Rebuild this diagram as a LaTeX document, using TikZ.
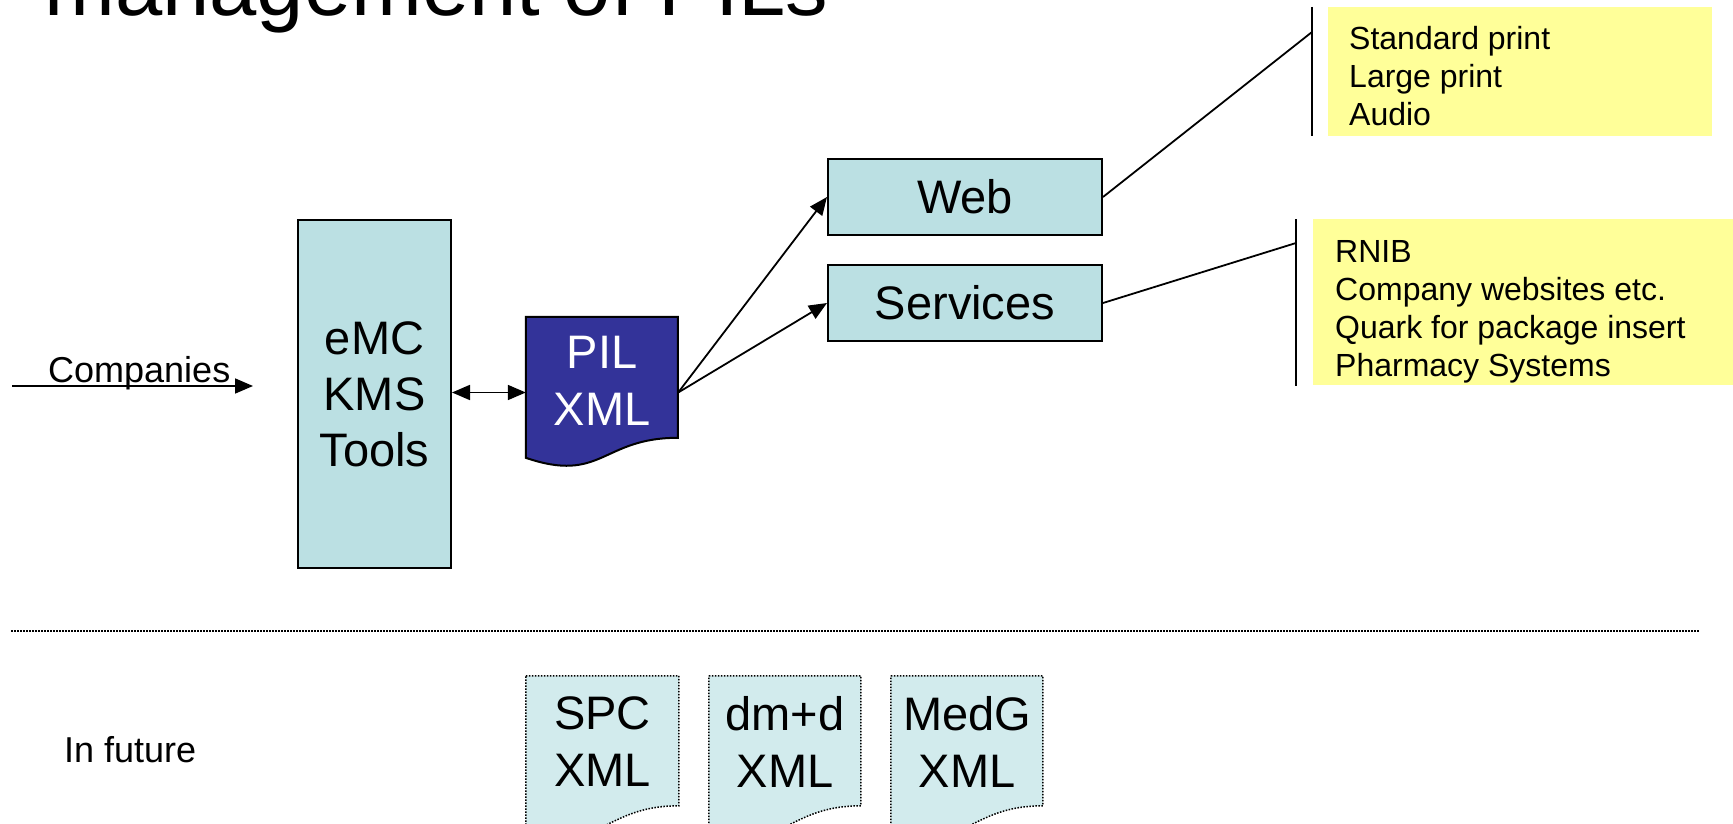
\documentclass[tikz,border=0pt]{standalone}
\usepackage{fontspec}
\setmainfont{Liberation Sans}
\usetikzlibrary{arrows.meta}
\definecolor{boxfill}{HTML}{BBE0E3}
\definecolor{pilblue}{HTML}{333399}
\definecolor{noteyellow}{HTML}{FFFF99}
\definecolor{futurefill}{HTML}{D2EBED}
\tikzset{
  bx/.style={draw=black, line width=2pt, fill=boxfill, inner sep=0pt, font=\fontsize{47}{56}\selectfont, align=center},
  tipx/.tip={Triangle[length=18pt,width=15pt]},
  arr/.style={line width=1.8pt, -tipx},
  dblarr/.style={line width=1.8pt, tipx-tipx},
  plainline/.style={line width=1.8pt},
  notetext/.style={font=\fontsize{32}{38}\selectfont, align=left, anchor=base west, inner sep=0pt},
  doctext/.style={font=\fontsize{47}{57}\selectfont, align=center, inner sep=0pt},
  docframe/.style={minimum width=#1, minimum height=151pt, inner sep=0pt},
  futframe/.style={minimum width=#1, minimum height=162pt, inner sep=0pt},
  futdoc/.style={fill=futurefill, draw=black, line width=1.5pt, dash pattern=on 1.5pt off 1.5pt},
  labeltext/.style={font=\fontsize{36}{43}\selectfont, anchor=base west, inner sep=0pt},
}
\begin{document}
\begin{tikzpicture}[x=1pt,y=-1pt]
\useasboundingbox (0,0) rectangle (1733,824);
% title
\node[anchor=base west, inner sep=0pt, font=\fontsize{85}{100}\selectfont] (title) at (44,16) {management of PILs};
% main boxes
\node[bx, minimum width=153pt, minimum height=348pt] (emc) at (374.5,394) {eMC\\KMS\\Tools};
\node[bx, minimum width=274pt, minimum height=76pt] (web) at (965,197) {Web};
\node[bx, minimum width=274pt, minimum height=76pt] (serv) at (965,303) {Services};
% PIL XML document
\node[docframe=152pt] (pil) at (602,392.5) {};
\begin{scope}[shift={(pil.north west)}]
  \path[fill=pilblue, draw=black, line width=2pt] (0,0) -- (152,0) -- (152,121) .. controls (76,121) and (76,167) .. (0,141) -- cycle;
\end{scope}
\node[doctext, text=white] (piltext) at (602,381) {PIL\\XML};
% connectors
\draw[dblarr] (emc.east |- pil.west) -- (pil.west);
\draw[arr] (pil.east) -- (web.west);
\draw[arr] (pil.east) -- (serv.west);
% Companies
\coordinate (cstart) at (12,386);
\coordinate (cend) at (253,386);
\draw[arr, tipx-] (cend) -- (cstart);
\node[labeltext] (companies) at (48,382) {Companies};
% callout 1
\node[fill=noteyellow, minimum width=384pt, minimum height=129pt, anchor=north west, inner sep=0pt] (note1) at (1328,7) {};
\coordinate (b1t) at (1312,7);
\coordinate (b1b) at (1312,136);
\coordinate (b1m) at (1312,32);
\draw[plainline] (b1t) -- (b1b);
\draw[plainline] (web.east) -- (b1m);
\node[notetext] (note1text) at (1349,126) {Standard print\\Large print\\Audio};
% callout 2
\node[fill=noteyellow, minimum width=420pt, minimum height=166pt, anchor=north west, inner sep=0pt] (note2) at (1313,219) {};
\coordinate (b2t) at (1296,219);
\coordinate (b2b) at (1296,386);
\coordinate (b2m) at (1296,243);
\draw[plainline] (b2t) -- (b2b);
\draw[plainline] (serv.east) -- (b2m);
\node[notetext] (note2text) at (1335,376) {RNIB\\Company websites etc.\\Quark for package insert\\Pharmacy Systems};
% separator
\coordinate (sepl) at (11,631);
\coordinate (sepr) at (1700,631);
\draw[line width=1.5pt, dash pattern=on 1.5pt off 1.5pt] (sepl) -- (sepr);
% future
\node[labeltext] (infuture) at (64,762) {In future};
\node[futframe=153pt] (spc) at (602.5,757) {};
\node[futframe=152pt] (dmd) at (785,757) {};
\node[futframe=152pt] (medg) at (967,757) {};
\foreach \n/\w in {spc/153, dmd/152, medg/152}{
  \begin{scope}[shift={(\n.north west)}]
    \path[futdoc] (0,0) -- (\w,0) -- (\w,130) .. controls ({\w/2},130) and ({\w/2},179) .. (0,151) -- cycle;
  \end{scope}
}
\node[doctext] (spctext) at (602.5,742) {SPC\\XML};
\node[doctext] (dmdtext) at (785,742) {dm+d\\XML};
\node[doctext] (medgtext) at (967,742) {MedG\\XML};
\end{tikzpicture}
\end{document}
